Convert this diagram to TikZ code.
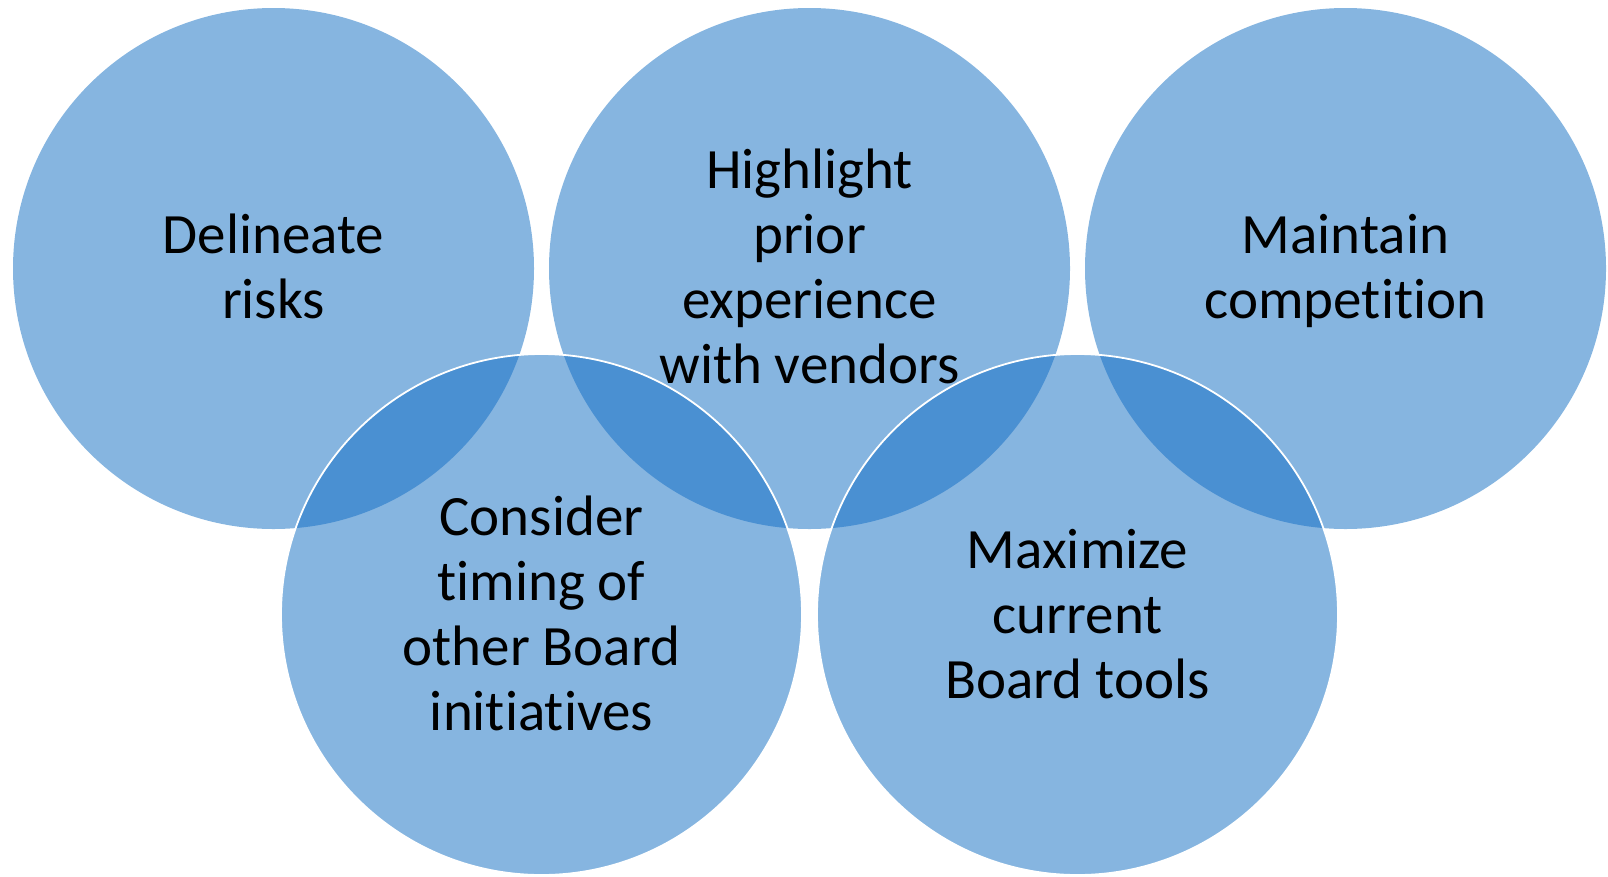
\documentclass[tikz,border=0pt]{standalone}
\usepackage{fontspec}
\setmainfont{Carlito}[Ligatures=NoCommon]
\definecolor{ringfill}{HTML}{86B5E0}
\definecolor{lensfill}{HTML}{4A90D2}
\tikzset{
  ring/.style={circle, fill=ringfill, minimum size=521pt, inner sep=0pt},
  ringedge/.style={draw=white, line width=1.8pt},
  ringtext/.style={align=center, anchor=base, inner sep=0pt,
    font=\fontsize{57pt}{65pt}\selectfont, text=black}
}
\newcommand{\ringrad}{260.5pt}
\begin{document}
\begin{tikzpicture}[x=1pt, y=-1pt]
\useasboundingbox (0,0) rectangle (1608,876);
% upper row of rings
\node[ring] (c1) at (273.5,268.5) {};
\node[ring] (c2) at (809.5,268.5) {};
\node[ring] (c3) at (1345.5,268.5) {};
% lower row of rings
\node[ring] (c4) at (541.5,614.5) {};
\node[ring] (c5) at (1077.5,614.5) {};
% darker lenses where the rows overlap
\begin{scope}
  \clip (c1.center) circle[radius=\ringrad];
  \fill[lensfill] (c4.center) circle[radius=\ringrad];
\end{scope}
\begin{scope}
  \clip (c2.center) circle[radius=\ringrad];
  \fill[lensfill] (c4.center) circle[radius=\ringrad];
\end{scope}
\begin{scope}
  \clip (c2.center) circle[radius=\ringrad];
  \fill[lensfill] (c5.center) circle[radius=\ringrad];
\end{scope}
\begin{scope}
  \clip (c3.center) circle[radius=\ringrad];
  \fill[lensfill] (c5.center) circle[radius=\ringrad];
\end{scope}
% white rims of the lower rings
\draw[ringedge] (c4.center) circle[radius=\ringrad];
\draw[ringedge] (c5.center) circle[radius=\ringrad];
% labels (anchored at the baseline of the last line)
\node[ringtext] (t1) at (273.5,318) {Delineate\\risks};
\node[ringtext] (t2) at (809.5,383) {Highlight\\prior\\experience\\with vendors};
\node[ringtext] (t3) at (1345.5,318) {Maintain\\competition};
\node[ringtext] (t4) at (541.5,730) {Consider\\timing of\\other Board\\initiatives};
\node[ringtext] (t5) at (1077.5,698) {Maximize\\current\\Board tools};
\end{tikzpicture}
\end{document}
